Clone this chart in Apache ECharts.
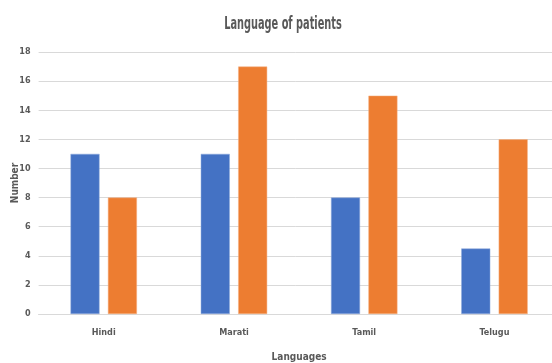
<!DOCTYPE html>
<html>
<head>
<meta charset="utf-8">
<script src="https://cdn.jsdelivr.net/npm/echarts@6/dist/echarts.min.js"></script>
<style>
  html, body { margin: 0; padding: 0; background: #fff; }
  #chart { width: 552px; height: 363px; }
</style>
</head>
<body>
<div id="chart"></div>
<script>
// Patient counts by language, two groups per language
const languages = ['Hindi', 'Marati', 'Tamil', 'Telugu'];
const seriesBlue = [11, 11, 8, 4.5];
const seriesOrange = [8, 17, 15, 12];
const yTicks = { min: 0, max: 18, interval: 2 };

const FONT = '"Liberation Sans Narrow", "DejaVu Sans Condensed", sans-serif';
const TEXT = '#595959';

const chart = echarts.init(document.getElementById('chart'), null, { renderer: 'canvas' });
chart.setOption({
  animation: false,
  backgroundColor: '#ffffff',
  // Title drawn as a condensed text element
  graphic: [{
    type: 'text',
    x: 283,
    y: 25,
    scaleX: 0.64,
    style: {
      text: 'Language of patients',
      fontFamily: FONT,
      fontSize: 17,
      fontWeight: 'bold',
      fill: TEXT,
      align: 'center',
      verticalAlign: 'middle'
    }
  }],
  grid: { left: 38.6, top: 52, width: 521, height: 262, outerBoundsMode: 'none', containLabel: false },
  xAxis: {
    type: 'category',
    data: languages,
    name: 'Languages',
    nameLocation: 'middle',
    nameGap: 38,
    nameTextStyle: { fontFamily: FONT, fontSize: 10, fontWeight: 'bold', color: TEXT },
    axisLine: { lineStyle: { color: '#d9d9d9', width: 1 } },
    axisTick: { show: false },
    axisLabel: { fontFamily: FONT, fontSize: 9, fontWeight: 'bold', color: TEXT, margin: 14 }
  },
  yAxis: {
    type: 'value',
    min: yTicks.min,
    max: yTicks.max,
    interval: yTicks.interval,
    name: 'Number',
    nameLocation: 'middle',
    nameGap: 18,
    nameMoveOverlap: false,
    nameRotate: 90,
    nameTextStyle: { fontFamily: FONT, fontSize: 10, fontWeight: 'bold', color: TEXT },
    axisLine: { show: false },
    axisTick: { show: false },
    axisLabel: { fontFamily: FONT, fontSize: 9, fontWeight: 'bold', color: TEXT, margin: 8 },
    splitLine: { lineStyle: { color: '#d9d9d9', width: 1 } }
  },
  series: [
    {
      type: 'bar',
      data: seriesBlue,
      barWidth: 29,
      barGap: '29%',
      itemStyle: { color: '#4472C4', borderColor: '#8faadc', borderWidth: 0.5 }
    },
    {
      type: 'bar',
      data: seriesOrange,
      barWidth: 29,
      barGap: '29%',
      itemStyle: { color: '#ED7D31', borderColor: '#f4b183', borderWidth: 0.5 }
    }
  ]
});
</script>
</body>
</html>
